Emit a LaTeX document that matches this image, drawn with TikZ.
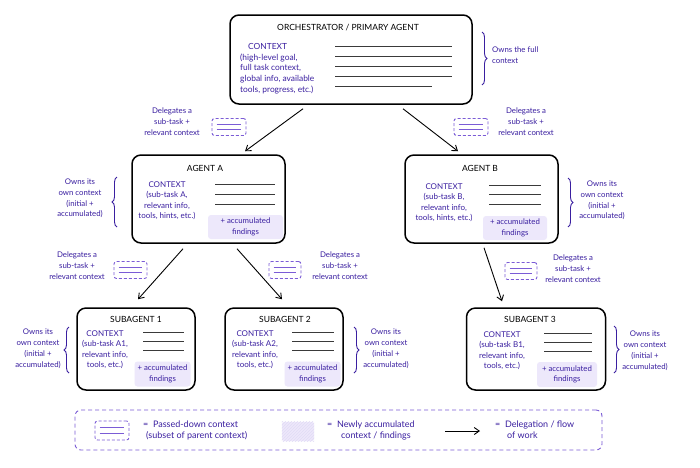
\documentclass[tikz,border=0pt]{standalone}
\usepackage{fontspec}
\setmainfont{Lato}
\usetikzlibrary{arrows.meta,decorations.pathreplacing,calc,patterns}
\definecolor{ink}{HTML}{3A1FA0}
\definecolor{dpurp}{HTML}{7B5CD6}
\definecolor{lav}{HTML}{EDE8FB}
\definecolor{lgray}{HTML}{3A3A3A}
\begin{document}
\begin{tikzpicture}[x=1pt,y=-1pt,
  box/.style={draw=black, line width=1.5pt, rounded corners=9pt, fill=white, inner sep=0pt},
  ttl/.style={font=\fontsize{8.5}{10}\selectfont, text=black, inner sep=0pt},
  ctx/.style={font=\fontsize{8}{10.5}\selectfont, text=ink, align=center, inner sep=0pt},
  octx/.style={font=\fontsize{8.4}{10.8}\selectfont, text=ink, align=left, inner sep=0pt},
  find/.style={fill=lav, rounded corners=3pt, inner sep=0pt},
  findtxt/.style={font=\fontsize{7.8}{10.5}\selectfont, text=ink, align=center, inner sep=0pt},
  note/.style={font=\fontsize{7.8}{10.7}\selectfont, text=ink, align=center, inner sep=0pt},
  dicon/.style={draw=dpurp, dashed, dash pattern=on 3pt off 2pt, rounded corners=2.5pt, line width=0.9pt, minimum width=34pt, minimum height=17pt, inner sep=0pt},
  iline/.style={draw=dpurp, line width=0.7pt},
  tline/.style={draw=lgray, line width=1pt},
  arr/.style={-{Straight Barb[length=5pt,width=7pt]}, line width=0.9pt, draw=black},
  brc/.style={decorate, decoration={brace, amplitude=5pt}, draw=ink, line width=0.9pt},
  lgd/.style={font=\fontsize{9}{11}\selectfont, text=ink, align=left, inner sep=0pt}
]
\useasboundingbox[fill=white] (0,0) rectangle (700,467);

% ---------- Orchestrator ----------
\node[box, minimum width=242pt, minimum height=89pt] (orch) at (351,59.5) {};
\node[ttl] (orcht) at (348,28) {ORCHESTRATOR / PRIMARY AGENT};
\node[octx, anchor=north west] (orchc) at (240,43) {\hspace*{8pt}CONTEXT\\(high-level goal,\\full task context,\\global info, available\\tools, progress, etc.)};
\foreach \yy in {46,56,66,76} \draw[tline] (335,\yy) -- (452,\yy);
\draw[tline] (335,86) -- (432,86);
\coordinate (ob1) at (482,32); \coordinate (ob2) at (482,85);
\draw[brc] (ob1) -- (ob2);
\node[note, align=left, anchor=north west] (orchn) at (492,47) {Owns the full\\context};

% ---------- Agent A ----------
\node[box, minimum width=153pt, minimum height=88pt] (agA) at (208.5,199) {};
\node[ttl] (agAt) at (205,168) {AGENT A};
\node[ctx, anchor=north] (agAc) at (167,181) {CONTEXT\\(sub-task A,\\relevant info,\\tools, hints, etc.)};
\foreach \yy in {184,194,204} \draw[tline] (215,\yy) -- (275,\yy);
\node[find, minimum width=75pt, minimum height=24pt] (agAf) at (245.5,227) {};
\node[findtxt] (agAft) at (agAf) {+ accumulated\\findings};
\coordinate (ab1) at (117,227); \coordinate (ab2) at (117,177);
\draw[brc] (ab1) -- (ab2);
\node[note, anchor=north] (agAn) at (80,179) {Owns its\\own context\\(initial +\\accumulated)};

% ---------- Agent B ----------
\node[box, minimum width=153pt, minimum height=88pt] (agB) at (481.5,199) {};
\node[ttl] (agBt) at (480,168) {AGENT B};
\node[ctx, anchor=north] (agBc) at (444,183) {CONTEXT\\(sub-task B,\\relevant info,\\tools, hints, etc.)};
\foreach \yy in {185,194,204} \draw[tline] (489,\yy) -- (541,\yy);
\node[find, minimum width=64pt, minimum height=24pt] (agBf) at (515,228) {};
\node[findtxt] (agBft) at (agBf) {+ accumulated\\findings};
\coordinate (bb1) at (568,178); \coordinate (bb2) at (568,227);
\draw[brc] (bb1) -- (bb2);
\node[note, anchor=north] (agBn) at (602,181) {Owns its\\own context\\(initial +\\accumulated)};

% ---------- Subagent 1 ----------
\node[box, minimum width=118pt, minimum height=82pt] (s1) at (136,349) {};
\node[ttl] (s1t) at (136,319) {SUBAGENT 1};
\node[ctx, anchor=north] (s1c) at (105,330) {CONTEXT\\(sub-task A1,\\relevant info,\\tools, etc.)};
\foreach \yy in {332,341,350} \draw[tline] (143,\yy) -- (184,\yy);
\node[find, minimum width=56pt, minimum height=25pt] (s1f) at (162.5,374) {};
\node[findtxt] (s1ft) at (s1f) {+ accumulated\\findings};
\coordinate (s1b1) at (69,373); \coordinate (s1b2) at (69,327);
\draw[brc] (s1b1) -- (s1b2);
\node[note, anchor=north] (s1n) at (38,329) {Owns its\\own context\\(initial +\\accumulated)};

% ---------- Subagent 2 ----------
\node[box, minimum width=118pt, minimum height=82pt] (s2) at (284,349) {};
\node[ttl] (s2t) at (285,319) {SUBAGENT 2};
\node[ctx, anchor=north] (s2c) at (255,330) {CONTEXT\\(sub-task A2,\\relevant info,\\tools, etc.)};
\foreach \yy in {332,341,350} \draw[tline] (292,\yy) -- (334,\yy);
\node[find, minimum width=56pt, minimum height=25pt] (s2f) at (312.5,374) {};
\node[findtxt] (s2ft) at (s2f) {+ accumulated\\findings};
\coordinate (s2b1) at (354,327); \coordinate (s2b2) at (354,373);
\draw[brc] (s2b1) -- (s2b2);
\node[note, anchor=north] (s2n) at (386,329) {Owns its\\own context\\(initial +\\accumulated)};

% ---------- Subagent 3 ----------
\node[box, minimum width=139pt, minimum height=82pt] (s3) at (536,349) {};
\node[ttl] (s3t) at (530,319) {SUBAGENT 3};
\node[ctx, anchor=north] (s3c) at (502,331) {CONTEXT\\(sub-task B1,\\relevant info,\\tools, etc.)};
\foreach \yy in {333,342,351} \draw[tline] (544,\yy) -- (592,\yy);
\node[find, minimum width=60pt, minimum height=25pt] (s3f) at (567,374.5) {};
\node[findtxt] (s3ft) at (s3f) {+ accumulated\\findings};
\coordinate (s3b1) at (614,326); \coordinate (s3b2) at (614,373);
\draw[brc] (s3b1) -- (s3b2);
\node[note, anchor=north] (s3n) at (645,331) {Owns its\\own context\\(initial +\\accumulated)};

% ---------- Delegation icons and notes ----------
\node[dicon] (d1) at (229,127) {};
\draw[iline] ($(d1.west)+(5,-2.5)$) -- ($(d1.east)+(-5,-2.5)$);
\draw[iline] ($(d1.west)+(5,2.5)$) -- ($(d1.east)+(-5,2.5)$);
\node[note, anchor=north] (d1n) at (172,108) {Delegates a\\sub-task +\\relevant context};

\node[dicon] (d2) at (471,127) {};
\draw[iline] ($(d2.west)+(5,-2.5)$) -- ($(d2.east)+(-5,-2.5)$);
\draw[iline] ($(d2.west)+(5,2.5)$) -- ($(d2.east)+(-5,2.5)$);
\node[note, anchor=north] (d2n) at (526,108) {Delegates a\\sub-task +\\relevant context};

\node[dicon, minimum width=33pt] (d3) at (130.5,270) {};
\draw[iline] ($(d3.west)+(5,-2.5)$) -- ($(d3.east)+(-5,-2.5)$);
\draw[iline] ($(d3.west)+(5,2.5)$) -- ($(d3.east)+(-5,2.5)$);
\node[note, anchor=north] (d3n) at (77,252) {Delegates a\\sub-task +\\relevant context};

\node[dicon, minimum width=32pt] (d4) at (285,270) {};
\draw[iline] ($(d4.west)+(5,-2.5)$) -- ($(d4.east)+(-5,-2.5)$);
\draw[iline] ($(d4.west)+(5,2.5)$) -- ($(d4.east)+(-5,2.5)$);
\node[note, anchor=north] (d4n) at (340,252) {Delegates a\\sub-task +\\relevant context};

\node[dicon, minimum width=32pt] (d5) at (521,271) {};
\draw[iline] ($(d5.west)+(5,-2.5)$) -- ($(d5.east)+(-5,-2.5)$);
\draw[iline] ($(d5.west)+(5,2.5)$) -- ($(d5.east)+(-5,2.5)$);
\node[note, anchor=north] (d5n) at (573,255) {Delegates a\\sub-task +\\relevant context};

% ---------- Connectors ----------
\draw[arr] ($(orch.south)+(-48,4)$) -- ($(agA.north)+(36.5,-3)$);
\draw[arr] ($(orch.south)+(52,4)$) -- ($(agB.north)+(-23.5,-3)$);
\draw[arr] ($(agA.south)+(-25.5,5)$) -- ($(s1.north)+(2,-8)$);
\draw[arr] ($(agA.south)+(28.5,5)$) -- ($(s2.north)+(-2,-8)$);
\draw[arr] ($(agB.south)+(2.5,4)$) -- ($(s3.north)+(-34,-6)$);

% ---------- Legend ----------
\node[draw=dpurp, dashed, dash pattern=on 4pt off 3pt, rounded corners=6pt, line width=0.9pt, minimum width=527pt, minimum height=40pt, inner sep=0pt] (lg) at (338.5,430) {};
\node[dicon, minimum width=34pt, minimum height=19pt] (lgi) at (112,430.5) {};
\draw[iline] ($(lgi.west)+(5,-3)$) -- ($(lgi.east)+(-5,-3)$);
\draw[iline] ($(lgi.west)+(5,3)$) -- ($(lgi.east)+(-5,3)$);
\node[lgd, anchor=north west] (lgt1) at (143,421) {=\ \ Passed-down context\\\hspace*{3pt}(subset of parent context)};
\node[fill=lav, rounded corners=2pt, minimum width=32pt, minimum height=19pt, inner sep=0pt] (lgf) at (298,431.5) {};
\fill[pattern=north east lines, pattern color=dpurp!22] (lgf.south west) rectangle (lgf.north east);
\node[lgd, anchor=north west] (lgt2) at (327,421) {=\ \ Newly accumulated\\\hspace*{14pt}context / findings};
\coordinate (la1) at (445,431);
\coordinate (la2) at (480,431);
\draw[arr] (la1) -- (la2);
\node[lgd, anchor=north west] (lgt3) at (495,421) {=\ \ Delegation / flow\\\hspace*{12pt}of work};
\end{tikzpicture}
\end{document}
